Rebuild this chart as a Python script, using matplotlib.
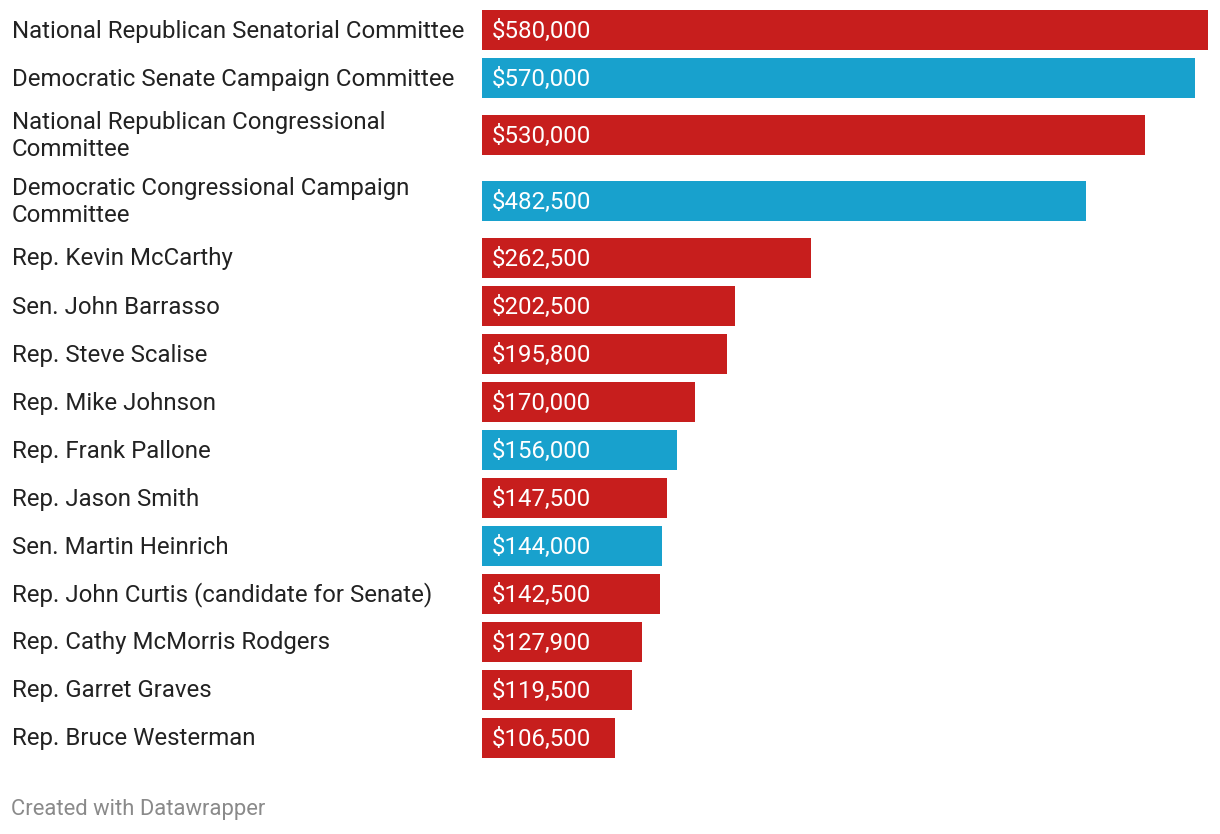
import matplotlib
matplotlib.use("Agg")
import matplotlib.pyplot as plt
from matplotlib.transforms import blended_transform_factory, offset_copy

labels = [
    "National Republican Senatorial Committee",
    "Democratic Senate Campaign Committee",
    "National Republican Congressional\nCommittee",
    "Democratic Congressional Campaign\nCommittee",
    "Rep. Kevin McCarthy",
    "Sen. John Barrasso",
    "Rep. Steve Scalise",
    "Rep. Mike Johnson",
    "Rep. Frank Pallone",
    "Rep. Jason Smith",
    "Sen. Martin Heinrich",
    "Rep. John Curtis (candidate for Senate)",
    "Rep. Cathy McMorris Rodgers",
    "Rep. Garret Graves",
    "Rep. Bruce Westerman",
]
values = [580000, 570000, 530000, 482500, 262500, 202500, 195800, 170000,
          156000, 147500, 144000, 142500, 127900, 119500, 106500]
parties = ["R", "D", "R", "D", "R", "R", "R", "R", "D", "R", "D", "R", "R", "R", "R"]
party_colors = {"R": "#c71e1d", "D": "#18a1cd"}

W, H, DPI = 1220, 834, 100
FONT = "Roboto"
LABEL_PX = 24
fs = LABEL_PX * 72 / DPI

fig = plt.figure(figsize=(W / DPI, H / DPI), dpi=DPI)
fig.patch.set_facecolor("white")

# vertical layout in pixels from top
row_h = {1: 48, 2: 66}
centers = []
y = 6
for lab in labels:
    h = row_h[lab.count("\n") + 1]
    centers.append(y + h / 2)
    y += h

ax = fig.add_axes([482 / W, 0, 726 / W, 1])
ax.set_xlim(0, max(values))
ax.set_ylim(H, 0)
ax.axis("off")

ax.barh(centers, values, height=40, color=[party_colors[p] for p in parties],
        linewidth=0)

lab_tr = offset_copy(blended_transform_factory(fig.transFigure, ax.transData),
                     fig=fig, x=0, y=-1, units="dots")
val_tr = offset_copy(ax.transData, fig=fig, x=10, y=-1, units="dots")
for lab, v, c in zip(labels, values, centers):
    ax.text(12 / W, c, lab, transform=lab_tr, ha="left", va="center",
            fontsize=fs, family=FONT, color="#222222", linespacing=1.18)
    ax.text(0, c, f"${v:,.0f}", transform=val_tr, ha="left", va="center",
            fontsize=fs, family=FONT, color="white")

fig.text(11 / W, 1 - 810 / H, "Created with Datawrapper", ha="left", va="center",
         fontsize=22 * 72 / DPI, family=FONT, color="#8a8a8a")

fig.savefig("out.png", dpi=DPI, facecolor="white")
